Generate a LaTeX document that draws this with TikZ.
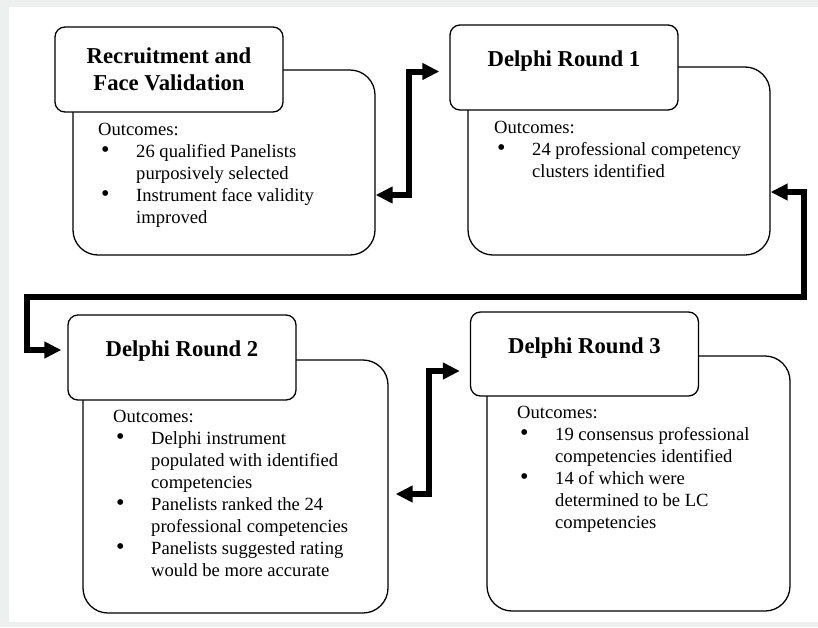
\documentclass[tikz,border=0pt]{standalone}
\usepackage{fontspec}
\setmainfont{Liberation Serif}
\usepackage{tikz}
\usetikzlibrary{positioning, calc, arrows.meta}

\definecolor{pagegray}{RGB}{238,240,239}
\newcommand{\bitem}{\makebox[38pt][l]{\hspace{3pt}\raisebox{-0.5pt}{\scalebox{1.3}{\textbullet}}}}
\newcommand{\bcont}{\hspace*{38pt}}

\begin{document}
\begin{tikzpicture}[x=1pt, y=-1pt
    , titlebox/.style={draw, fill=white, line width=1.3pt, rounded corners=10pt,
        minimum width=228pt, minimum height=85pt, align=center,
        font=\fontsize{22.7}{27}\selectfont\bfseries}
    , bodybox/.style={draw, line width=1.3pt, rounded corners=25pt}
    , outtext/.style={anchor=north west, inner sep=0pt, align=left,
        font=\fontsize{18.6}{22}\selectfont}
    , link/.style={line width=6pt, >={Triangle[length=17pt, width=16pt]}, <->}
    ]

    \useasboundingbox (0,0) rectangle (818,627);
    \fill[pagegray] (0,0) rectangle (818,627);
    \fill[white] (9,7) rectangle (818,622);

    \node[bodybox, minimum width=302pt, minimum height=185pt] (recbody) at (224,162.5) {};
    \node[bodybox, minimum width=302pt, minimum height=188pt] (r1body) at (619,161) {};
    \node[bodybox, minimum width=305pt, minimum height=253pt] (r2body) at (235.5,486.5) {};
    \node[bodybox, minimum width=303pt, minimum height=255pt] (r3body) at (638.5,483.5) {};

    \node[titlebox] (rectitle) at (169,69.5) {Recruitment and\\Face Validation};
    \node[titlebox, text depth=17pt] (r1title) at (564,67.5) {Delphi Round 1};
    \node[titlebox, text depth=17pt] (r2title) at (182,357.5) {Delphi Round 2};
    \node[titlebox, text depth=17pt, minimum height=84pt] (r3title) at (584.5,354) {Delphi Round 3};

    \node[outtext] (recout) at (98,119.6) {\strut Outcomes:\\
        \bitem 26 qualified Panelists\\ \bcont purposively selected\\
        \bitem Instrument face validity\\ \bcont improved};
    \node[outtext] (r1out) at (494,117.6) {\strut Outcomes:\\
        \bitem 24 professional competency\\ \bcont clusters identified};
    \node[outtext] (r2out) at (113,406.6) {\strut Outcomes:\\
        \bitem Delphi instrument\\ \bcont populated with identified\\ \bcont competencies\\
        \bitem Panelists ranked the 24\\ \bcont professional competencies\\
        \bitem Panelists suggested rating\\ \bcont would be more accurate};
    \node[outtext] (r3out) at (517,402.6) {\strut Outcomes:\\
        \bitem 19 consensus professional\\ \bcont competencies identified\\
        \bitem 14 of which were\\ \bcont determined to be LC\\ \bcont competencies};

    % links between the stages
    \draw[link] ([yshift=-32.5pt]recbody.east) -- ++(33,0)
        |- ([xshift=-10pt, yshift=-4pt]r1title.west);
    \draw[link] ([yshift=-31pt]r1body.east) -- ++(33,0) -- ++(0,105)
        -| ([xshift=-40pt, yshift=7.5pt]r2title.west) -- ([xshift=-6pt, yshift=7.5pt]r2title.west);
    \draw[link] ([xshift=7pt, yshift=-7.5pt]r2body.east) -- ++(33,0)
        |- ([xshift=-10pt, yshift=-17pt]r3title.west);

\end{tikzpicture}
\end{document}
